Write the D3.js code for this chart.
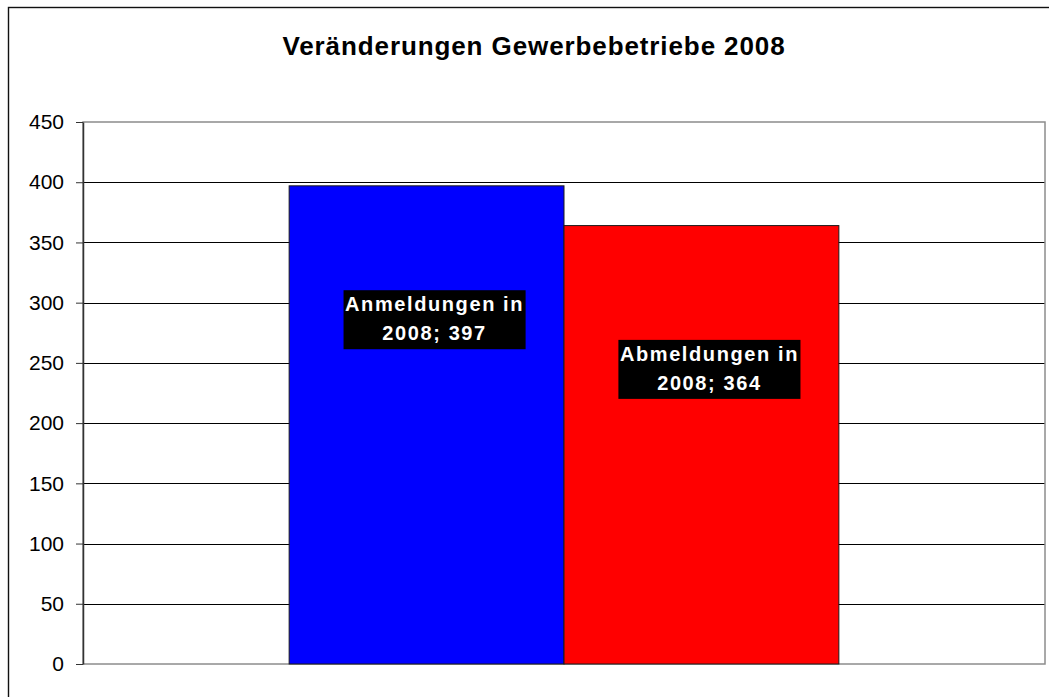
<!DOCTYPE html>
<html lang="de">
<head>
<meta charset="UTF-8">
<title>Veränderungen Gewerbebetriebe 2008</title>
<script src="https://cdn.jsdelivr.net/npm/d3@7"></script>
<style>
  html, body { margin: 0; padding: 0; background: #fff; }
  svg text { font-family: 'Liberation Sans', Arial, sans-serif; }
</style>
</head>
<body>
<div id="chart"></div>
<script>
// chart data
var categories = ["2008"];
var seriesNames = ["Anmeldungen in 2008", "Abmeldungen in 2008"];
var seriesValues = [397, 364];
var seriesColors = ["#0000ff", "#ff0000"];
var yTicks = [0, 50, 100, 150, 200, 250, 300, 350, 400, 450];
var chartTitle = "Veränderungen Gewerbebetriebe 2008";

// where the data labels sit, as share of the bar height (dragged by hand in the original)
var labelFrac = [0.72, 0.672];

var W = 1049, H = 697;
var plot = {left: 83, right: 1045, top: 122, bottom: 664};

var svg = d3.select('#chart')
    .append('svg')
    .attr('width', W)
    .attr('height', H);

svg.append('rect')
    .attr('width', W)
    .attr('height', H)
    .attr('fill', '#fff');

// outer chart frame, cut off by the window on the right and bottom
svg.append('rect')
    .attr('x', 8.5)
    .attr('y', 7.5)
    .attr('width', 1052)
    .attr('height', 720)
    .attr('fill', 'none')
    .attr('stroke', '#111')
    .attr('stroke-width', 1.4);

svg.append('text')
    .attr('x', 534)
    .attr('y', 55)
    .attr('text-anchor', 'middle')
    .style('font-size', '26px')
    .style('font-weight', 'bold')
    .style('letter-spacing', '0.9px')
    .text(chartTitle);

var y = d3.scaleLinear()
    .domain([0, 450])
    .range([plot.bottom, plot.top]);

var x0 = d3.scaleBand()
    .domain(categories)
    .range([plot.left, plot.right])
    .paddingInner(0)
    .paddingOuter(0.375);

var x1 = d3.scaleBand()
    .domain(seriesNames)
    .range([0, x0.bandwidth()]);

// grid lines
svg.append('g')
    .selectAll('line')
    .data(yTicks.filter(function(d) { return d > 0 && d < 450; }))
    .enter()
    .append('line')
    .attr('x1', plot.left)
    .attr('x2', plot.right)
    .attr('y1', function(d) { return Math.round(y(d)) + 0.5; })
    .attr('y2', function(d) { return Math.round(y(d)) + 0.5; })
    .attr('stroke', '#000')
    .attr('stroke-width', 1);

// plot area border
svg.append('rect')
    .attr('x', plot.left)
    .attr('y', plot.top)
    .attr('width', plot.right - plot.left)
    .attr('height', plot.bottom - plot.top)
    .attr('fill', 'none')
    .attr('stroke', '#8c8c8c')
    .attr('stroke-width', 1.5);

var bars = seriesNames.map(function(name, i) {
    return {name: name, value: seriesValues[i], color: seriesColors[i], frac: labelFrac[i]};
});

var barG = svg.append('g');
barG.selectAll('rect')
    .data(bars)
    .enter()
    .append('rect')
    .attr('x', function(d) { return x0(categories[0]) + x1(d.name); })
    .attr('y', function(d) { return y(d.value); })
    .attr('width', x1.bandwidth())
    .attr('height', function(d) { return y(0) - y(d.value); })
    .attr('fill', function(d) { return d.color; })
    .attr('stroke', '#1a1a1a')
    .attr('stroke-width', 1);

// y axis
var yAxis = d3.axisLeft(y)
    .tickValues(yTicks)
    .tickSize(7)
    .tickSizeOuter(0)
    .tickPadding(12);

var axisG = svg.append('g')
    .attr('transform', 'translate(' + plot.left + ',0)')
    .call(yAxis);
axisG.select('.domain').attr('stroke', '#333').attr('stroke-width', 1.5);
axisG.selectAll('.tick line').attr('stroke', '#333');
axisG.selectAll('.tick text')
    .attr('fill', '#000')
    .style('font-size', '21px')
    .style('font-family', "'Liberation Sans', Arial, sans-serif");

// wrap label text the way the original does
function wrap(str, maxChars) {
    var words = str.split(' '), lines = [], cur = '';
    words.forEach(function(w) {
        var next = cur ? cur + ' ' + w : w;
        if (next.length > maxChars && cur) {
            lines.push(cur);
            cur = w;
        } else {
            cur = next;
        }
    });
    if (cur) lines.push(cur);
    return lines;
}

// data labels
var lineH = 29;
bars.forEach(function(d) {
    var cx = x0(categories[0]) + x1(d.name) + x1.bandwidth() / 2 + 8;
    var cy = y(0) - (y(0) - y(d.value)) * d.frac;
    var lines = wrap(d.name + '; ' + d.value, 15);

    var g = svg.append('g');
    var box = g.append('rect').attr('fill', '#000');
    var t = g.append('text')
        .attr('text-anchor', 'middle')
        .attr('fill', '#fff')
        .style('font-size', '20px')
        .style('font-weight', 'bold')
        .style('letter-spacing', '1.6px');
    lines.forEach(function(l, i) {
        t.append('tspan')
            .attr('x', cx)
            .attr('y', cy - 8.5 + i * lineH)
            .text(l);
    });
    var bb = t.node().getBBox();
    var bw = bb.width + 3;
    box.attr('x', cx - bw / 2)
        .attr('y', cy - 29.5)
        .attr('width', bw)
        .attr('height', 59);
});
</script>
</body>
</html>
